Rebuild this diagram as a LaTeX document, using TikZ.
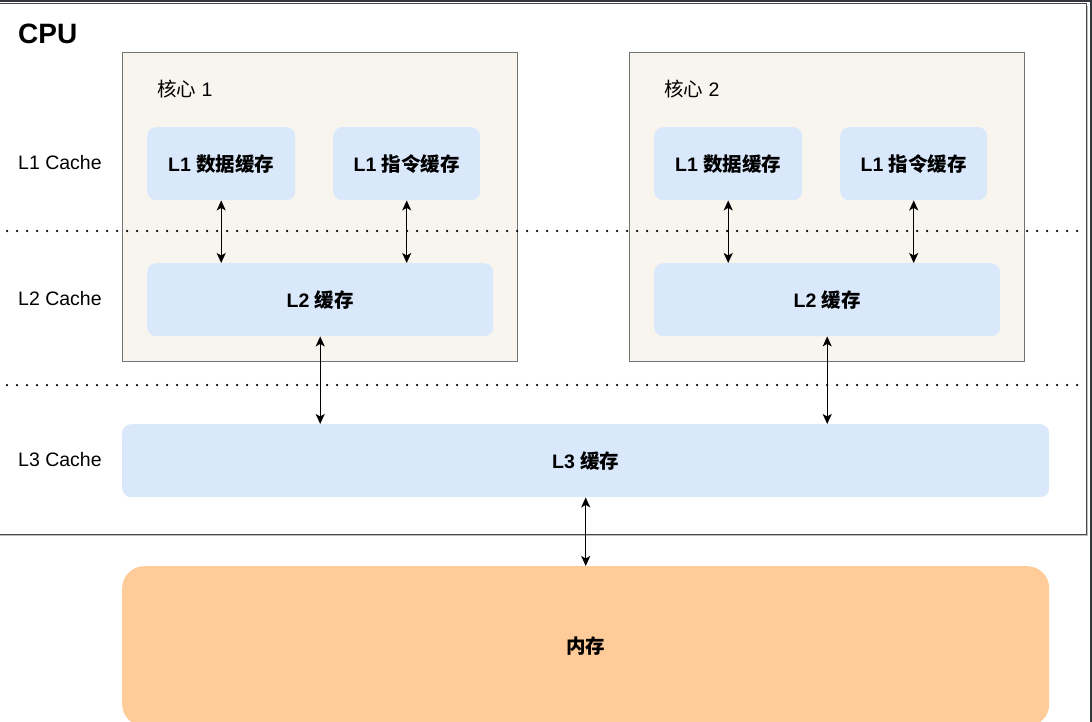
\documentclass[tikz,border=0pt]{standalone}
\usepackage{fontspec}
\setmainfont{Liberation Sans}
\newfontfamily\cjk{Noto Sans CJK SC}
\usetikzlibrary{arrows.meta,positioning}
\definecolor{CcFrame}{RGB}{50,53,57}
\definecolor{CcGray}{RGB}{70,72,75}
\definecolor{CcShadow}{RGB}{190,190,190}
\definecolor{CcCoreLine}{RGB}{115,115,115}
\definecolor{CcBeige}{RGB}{247,245,238}
\definecolor{CcBlue}{RGB}{218,232,252}
\definecolor{CcOrange}{RGB}{255,204,153}
\newcommand{\zh}[1]{{\cjk #1}}

\begin{document}
\begin{tikzpicture}[
  x=1pt,y=-1pt,
  font=\fontsize{19.5}{23}\selectfont,
  core/.style={draw=CcCoreLine,line width=0.9pt,fill=CcBeige,anchor=north west,
               inner sep=0pt,minimum width=395pt,minimum height=309pt},
  cache/.style={fill=CcBlue,rounded corners=9pt,anchor=north west,inner sep=0pt,
                minimum height=73pt,font=\fontsize{19.5}{23}\selectfont\bfseries},
  level/.style={anchor=west,inner sep=0pt},
  arrow/.style={{Stealth[length=10pt,width=9pt,inset=2.5pt]}-{Stealth[length=10pt,width=9pt,inset=2.5pt]},
                line width=1.3pt},
  layer/.style={line width=2.5pt,dash pattern=on 0pt off 10pt,line cap=round}
]
\useasboundingbox (0,0) rectangle (1092,722);
\fill[white] (0,0) rectangle (1092,722);

% CPU package
\draw[CcShadow,line width=1.2pt] (1087.6,6) -- (1087.6,535.6) -- (-10,535.6);
\node[draw=CcGray,line width=1.3pt,fill=white,anchor=north west,inner sep=0pt,
      minimum width=1096pt,minimum height=531pt] (cpu) at (-10,3) {};
\node[level,font=\fontsize{28}{32}\selectfont\bfseries] (cputitle) at (18,34) {CPU};

% cores
\node[core] (core1) at (122,52) {};
\node[core] (core2) at (629,52) {};
\node[level] (core1name) at (157,89) {\zh{核心} 1};
\node[level] (core2name) at (664,89) {\zh{核心} 2};

\node[cache,minimum width=148pt] (l1d1) at (147,127) {L1 \zh{数据缓存}};
\node[cache,minimum width=147pt] (l1i1) at (333,127) {L1 \zh{指令缓存}};
\node[cache,minimum width=346pt] (l2a) at (147,263) {L2 \zh{缓存}};
\node[cache,minimum width=148pt] (l1d2) at (654,127) {L1 \zh{数据缓存}};
\node[cache,minimum width=147pt] (l1i2) at (840,127) {L1 \zh{指令缓存}};
\node[cache,minimum width=346pt] (l2b) at (654,263) {L2 \zh{缓存}};

\node[cache,minimum width=927pt] (l3) at (122,424) {L3 \zh{缓存}};
\node[cache,fill=CcOrange,rounded corners=22pt,minimum width=927pt,
      minimum height=160pt] (mem) at (122,566) {\zh{内存}};

% level names
\node[level] (lv1) at (18,163) {L1 Cache};
\node[level] (lv2) at (18,299) {L2 Cache};
\node[level] (lv3) at (18,460) {L3 Cache};

% dotted borders between levels
\coordinate (sep1l) at (7,231);
\coordinate (sep1r) at (1082,231);
\coordinate (sep2l) at (7,385);
\coordinate (sep2r) at (1082,385);
\draw[layer] (sep1l) -- (sep1r);
\draw[layer] (sep2l) -- (sep2r);

\draw[arrow] (l1d1.south) -- (l1d1.south |- l2a.north);
\draw[arrow] (l1i1.south) -- (l1i1.south |- l2a.north);
\draw[arrow] (l1d2.south) -- (l1d2.south |- l2b.north);
\draw[arrow] (l1i2.south) -- (l1i2.south |- l2b.north);
\draw[arrow] (l2a.south) -- (l2a.south |- l3.north);
\draw[arrow] (l2b.south) -- (l2b.south |- l3.north);
\draw[arrow] (l3.south) -- (mem.north);

% window edge
\fill[CcFrame] (0,0) rectangle (1092,2);
\fill[CcFrame] (1089.5,0) rectangle (1092,722);
\end{tikzpicture}
\end{document}
